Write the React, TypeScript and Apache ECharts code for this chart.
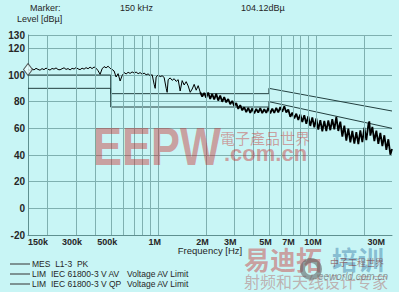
import React, { useEffect, useRef } from 'react';
import * as echarts from 'echarts';

// ---------- data ----------
const gridFreqsMHz = [0.2, 0.3, 0.4, 0.5, 0.6, 0.7, 0.8, 0.9, 1, 2, 3, 4, 5, 6, 7, 8, 9, 10, 20, 30];
const labelFreqsMHz = [0.15, 0.3, 0.5, 1, 2, 3, 5, 7, 10, 30];

const qpLimit: [number, number][] = [[0.15, 100], [0.5, 100], [0.5, 86], [5, 86], [5, 90], [30, 73]];
const avLimit: [number, number][] = [[0.15, 90], [0.5, 90], [0.5, 76], [5, 76], [5, 80], [30, 60]];

const markerPoint: [number, number] = [0.15, 104.12];

// peak trace, 150 kHz – 1.84 MHz
const peakTraceLow: [number, number][] = [
  [0.150, 104.1], [0.1544, 103.5], [0.159, 104.6], [0.1637, 103.8], [0.1686, 105.0], [0.1735, 104.2],
  [0.1787, 103.6], [0.184, 104.8], [0.1894, 104.0], [0.195, 105.2], [0.2008, 104.3], [0.2067, 103.7],
  [0.2128, 104.9], [0.2191, 104.4], [0.2256, 105.3], [0.2323, 104.1], [0.2392, 103.9], [0.2462, 104.7],
  [0.2535, 105.4], [0.261, 104.2], [0.2687, 104.8], [0.2767, 103.8], [0.2849, 105.0], [0.2933, 104.5],
  [0.3019, 105.6], [0.3109, 104.6], [0.32, 104.0], [0.3295, 105.1], [0.3393, 104.4], [0.3493, 105.5],
  [0.3596, 104.7], [0.3703, 105.9], [0.3812, 104.8], [0.3925, 106.0], [0.4041, 105.1], [0.416, 103.2],
  [0.4283, 100.5], [0.441, 104.6], [0.454, 106.3], [0.4675, 105.4], [0.4813, 106.6], [0.4955, 105.0],
  [0.5102, 104.2], [0.5253, 103.0], [0.5408, 98.5], [0.5568, 101.0], [0.5733, 95.5], [0.5902, 99.5],
  [0.6077, 101.8], [0.6256, 100.8], [0.6441, 102.0], [0.6632, 101.2], [0.6828, 102.3], [0.703, 101.5],
  [0.7238, 102.2], [0.7452, 101.0], [0.7672, 101.8], [0.7899, 100.6], [0.8132, 101.4], [0.8373, 100.2],
  [0.862, 100.8], [0.8875, 99.5], [0.9138, 100.2], [0.9408, 93.0], [0.955, 90.0], [0.9686, 98.5],
  [0.9973, 100.0], [1.027, 98.8], [1.057, 99.4], [1.088, 98.2], [1.121, 90.0], [1.137, 87.0],
  [1.154, 96.5], [1.188, 97.8], [1.223, 96.0], [1.259, 97.2], [1.297, 95.2], [1.335, 96.5],
  [1.374, 88.0], [1.415, 95.8], [1.457, 92.5], [1.5, 95.0], [1.544, 91.8], [1.59, 87.0],
  [1.637, 89.5], [1.685, 93.0], [1.735, 88.6], [1.786, 92.0], [1.839, 87.2],
];

// peak trace, 1.84 MHz – 30 MHz (dense noise band)
const peakTraceHigh: [number, number][] = [
  [1.839, 87.2], [1.894, 83.8], [1.95, 86.6], [2.007, 83.0], [2.066, 86.9], [2.127, 82.0],
  [2.19, 85.8], [2.255, 81.6], [2.322, 85.9], [2.39, 80.8], [2.461, 84.6], [2.534, 79.9],
  [2.609, 83.4], [2.686, 79.5], [2.766, 82.0], [2.847, 78.1], [2.932, 80.6], [3.018, 76.8],
  [3.107, 78.9], [3.199, 74.6], [3.294, 77.4], [3.392, 73.5], [3.492, 75.8], [3.595, 72.2],
  [3.702, 75.3], [3.811, 71.6], [3.924, 74.9], [4.04, 71.2], [4.159, 74.6], [4.282, 71.8],
  [4.409, 75.1], [4.539, 71.4], [4.674, 74.4], [4.812, 71.6], [4.954, 75.3], [5.101, 71.2],
  [5.251, 74.8], [5.407, 71.5], [5.566, 75.4], [5.731, 72.0], [5.901, 75.9], [6.075, 72.4],
  [6.255, 76.6], [6.439, 71.8], [6.63, 74.2], [6.826, 68.6], [7.028, 71.8], [7.235, 67.5],
  [7.449, 71.0], [7.669, 66.2], [7.896, 70.4], [8.13, 64.8], [8.37, 69.8], [8.617, 63.4],
  [8.872, 69.0], [9.134, 61.8], [9.404, 68.2], [9.682, 60.8], [9.968, 67.4], [10.26, 59.0],
  [10.57, 66.2], [10.88, 57.8], [11.2, 65.6], [11.53, 57.9], [11.87, 66.0], [12.22, 58.6],
  [12.58, 66.8], [12.96, 59.2], [13.34, 68.6], [13.73, 58.0], [14.14, 65.0], [14.56, 53.8],
  [14.99, 62.0], [15.43, 50.8], [15.89, 59.8], [16.36, 49.4], [16.84, 58.0], [17.34, 48.6],
  [17.85, 57.2], [18.38, 48.2], [18.92, 58.4], [19.48, 49.6], [20.06, 60.6], [20.65, 51.2],
  [21.26, 62.8], [21.57, 65.2], [21.89, 54.5], [22.54, 61.0], [23.2, 50.5], [23.89, 58.2],
  [24.59, 48.4], [25.32, 56.6], [26.07, 46.6], [26.84, 54.8], [27.63, 43.8], [28.45, 51.8],
  [29.29, 40.2], [30, 44.5],
];

const headerTexts = ['Marker:', '150 kHz', '104.12dBµ'];
const yAxisTitle = 'Level [dBµ]';
const xAxisTitle = 'Frequency [Hz]';
const legendRows: [string, string][] = [
  ['MES\u00a0\u00a0L1-3\u00a0\u00a0PK', ''],
  ['LIM\u00a0\u00a0IEC 61800-3 V AV', 'Voltage AV Limit'],
  ['LIM\u00a0\u00a0IEC 61800-3 V QP', 'Voltage AV Limit'],
];

// ---------- helpers ----------
const FONT = 'Liberation Sans';
const TEXT = '#262626';
const GRID = '#7fb0b0';
const lg = (f: number) => Math.log10(f);
const fmtFreq = (v: number) => {
  const f = Math.pow(10, v);
  return f < 0.999 ? Math.round(f * 1000) + 'k' : Math.round(f) + 'M';
};
const toXY = (arr: [number, number][]) => arr.map(([f, v]) => [lg(f), v]);

const txt = (x: number, y: number, text: string, size: number, extra: any = {}) => ({
  type: 'text',
  x,
  y,
  silent: true,
  z: extra.z ?? 50,
  scaleX: extra.scaleX ?? 1,
  style: {
    text,
    fontFamily: extra.family ?? FONT,
    fontSize: size,
    fontWeight: extra.weight ?? 'normal',
    fontStyle: extra.style ?? 'normal',
    fill: extra.fill ?? TEXT,
    align: extra.align ?? 'left',
    verticalAlign: 'middle',
  },
});

export default function App() {
  const ref = useRef<HTMLDivElement>(null);
  useEffect(() => {
    const chart = echarts.init(ref.current!, null, { renderer: 'svg' });

    const legendGraphics: any[] = [];
    legendRows.forEach(([a, b], i) => {
      const y = 264 + i * 10;
      legendGraphics.push({
        type: 'line', silent: true, z: 50,
        shape: { x1: 10, y1: y, x2: 30, y2: y },
        style: { stroke: '#333', lineWidth: 1 },
      });
      legendGraphics.push(txt(32, y, a, 8.5));
      if (b) legendGraphics.push(txt(127, y, b, 8.5));
    });

    const wmRed = 'rgba(200,40,40,0.42)';
    const wmBlue = 'rgba(40,110,160,0.42)';

    chart.setOption({
      animation: false,
      backgroundColor: '#c8f5f5',
      textStyle: { fontFamily: FONT },
      grid: { left: 28, right: 7, top: 35, bottom: 57, containLabel: false },
      xAxis: {
        type: 'value',
        min: lg(0.15),
        max: lg(30),
        name: xAxisTitle,
        nameLocation: 'middle',
        nameGap: 10,
        nameMoveOverlap: false,
        nameTextStyle: { fontSize: 9.5, color: TEXT, fontFamily: FONT, verticalAlign: 'top' },
        axisLine: { show: true, onZero: false, lineStyle: { color: '#5f9090', width: 1 } },
        axisTick: { show: false },
        splitLine: { show: false },
        axisLabel: {
          customValues: labelFreqsMHz.map(lg),
          formatter: fmtFreq,
          fontSize: 9,
          fontWeight: 'bold',
          color: TEXT,
          margin: 2,
          alignMinLabel: 'left',
          alignMaxLabel: 'right',
          padding: [0, 7, 0, 0],
        },
      },
      yAxis: {
        type: 'value',
        min: -20,
        max: 130,
        interval: 20,
        axisLine: { show: true, onZero: false, lineStyle: { color: '#5f9090', width: 1 } },
        axisTick: { show: false },
        splitLine: { show: true, lineStyle: { color: GRID, width: 1 } },
        axisLabel: { fontSize: 10, fontWeight: 'bold', color: TEXT, margin: 3 },
      },
      series: [
        {
          type: 'line',
          data: [],
          silent: true,
          z: 1,
          markLine: {
            silent: true,
            symbol: ['none', 'none'],
            label: { show: false },
            lineStyle: { color: GRID, width: 1, type: 'solid' },
            data: gridFreqsMHz.map((f) => ({ xAxis: lg(f) })),
          },
        },
        {
          name: 'LIM IEC 61800-3 V AV',
          type: 'line',
          data: toXY(avLimit),
          showSymbol: false,
          silent: true,
          z: 2,
          lineStyle: { color: '#223f3f', width: 1 },
        },
        {
          name: 'LIM IEC 61800-3 V QP',
          type: 'line',
          data: toXY(qpLimit),
          showSymbol: false,
          silent: true,
          z: 2,
          lineStyle: { color: '#223f3f', width: 1 },
        },
        {
          name: 'MES L1-3 PK',
          type: 'line',
          data: toXY(peakTraceLow),
          showSymbol: false,
          silent: true,
          z: 3,
          lineStyle: { color: '#000', width: 1 },
        },
        {
          name: 'MES L1-3 PK',
          type: 'line',
          data: toXY(peakTraceHigh),
          showSymbol: false,
          silent: true,
          z: 3,
          lineStyle: { color: '#000', width: 1.8, join: 'bevel' },
        },
        {
          type: 'scatter',
          data: [[lg(markerPoint[0]), markerPoint[1]]],
          symbol: 'diamond',
          symbolSize: [9, 12],
          clip: false,
          silent: true,
          z: 5,
          itemStyle: { color: '#eaffff', borderColor: '#333', borderWidth: 1 },
        },
      ],
      graphic: [
        txt(30, 8, headerTexts[0], 9),
        txt(120, 8, headerTexts[1], 9),
        txt(241, 8, headerTexts[2], 9),
        txt(17, 19, yAxisTitle, 9),
        ...legendGraphics,
        // watermarks
        txt(93, 146, 'EEPW', 53, { weight: 'bold', fill: wmRed, scaleX: 0.82, z: 60 }),
        txt(220, 137, '電子產品世界', 15, { family: 'Noto Sans CJK TC', fill: wmRed, z: 60 }),
        txt(224, 153, '.com.cn', 22, { weight: 'bold', fill: wmRed, z: 60 }),
        txt(244, 258, '易迪拓', 26, { family: 'Noto Sans CJK SC', weight: 'bold', fill: wmRed, z: 60 }),
        txt(332, 258, '培训', 26, { family: 'Noto Sans CJK SC', weight: 'bold', fill: wmBlue, z: 60 }),
        {
          type: 'ring', silent: true, z: 61,
          shape: { cx: 311, cy: 269, r: 11, r0: 6 },
          style: { fill: 'rgba(90,90,90,0.55)' },
        },
        txt(330, 262, '中子工程世界', 9, { family: 'Noto Sans CJK SC', fill: 'rgba(120,40,40,0.6)', z: 61 }),
        txt(318, 276, 'eeworld.com.cn', 10, { style: 'italic', fill: 'rgba(90,90,90,0.6)', z: 61 }),
        txt(244, 281, '射频和天线设计专家', 16, { family: 'Noto Sans CJK SC', fill: 'rgba(170,70,70,0.4)', z: 60 }),
      ],
    });
    return () => chart.dispose();
  }, []);
  return <div ref={ref} style={{ position: 'fixed', left: 0, top: 0, width: 399, height: 292 }} />;
}
